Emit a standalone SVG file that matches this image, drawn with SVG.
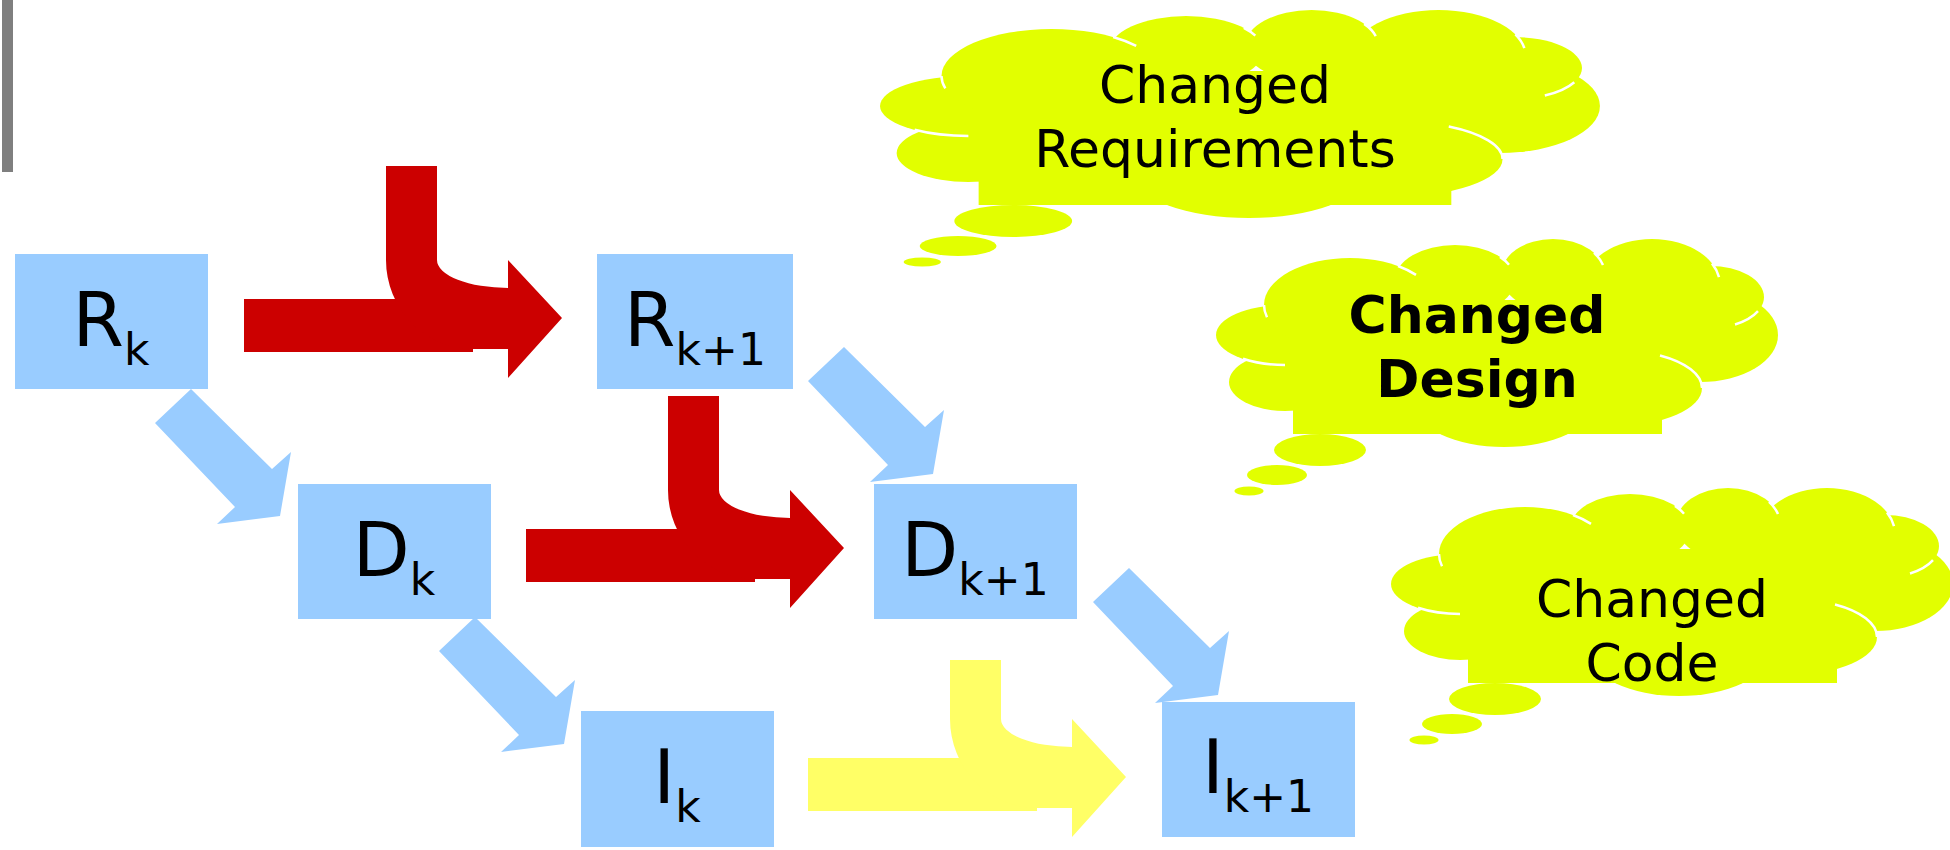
<svg xmlns="http://www.w3.org/2000/svg" xmlns:xlink="http://www.w3.org/1999/xlink" width="1950" height="850" viewBox="0 0 1950 850">
<style>
.box{fill:#99CCFF}
.lbl{font-family:"DejaVu Sans",Verdana,sans-serif;font-size:74px;fill:#000;text-anchor:middle}
.sub{font-size:44px}
.red{fill:#CC0000}
.yel{fill:#FFFF66}
.blu{fill:#99CCFF}
.cf{fill:#E2FF00}
.cw{fill:none;stroke:#FFFFFF;stroke-width:2.5;vector-effect:non-scaling-stroke}
.ct{font-family:"DejaVu Sans",Verdana,sans-serif;font-size:52px;fill:#000;text-anchor:middle}
.bold{font-weight:bold}
</style>
<defs>
<g id="cloud">
<g class="cf">
<ellipse cx="1285" cy="335" rx="69" ry="30"/>
<ellipse cx="1285" cy="382" rx="56" ry="29"/>
<ellipse cx="1350" cy="305" rx="86" ry="47"/>
<ellipse cx="1455" cy="280" rx="60" ry="35"/>
<ellipse cx="1553" cy="275" rx="52" ry="36"/>
<ellipse cx="1652" cy="285" rx="68" ry="46"/>
<ellipse cx="1710" cy="297" rx="54" ry="31"/>
<ellipse cx="1700" cy="335" rx="78" ry="47"/>
<ellipse cx="1615" cy="388" rx="87" ry="38"/>
<ellipse cx="1504" cy="404" rx="89" ry="43"/>
<rect x="1293" y="300" width="369" height="134"/>
<ellipse cx="1320" cy="450" rx="46" ry="16"/>
<ellipse cx="1277" cy="475" rx="30" ry="10"/>
<ellipse cx="1249" cy="491" rx="14.5" ry="4.5"/>
</g>
<path class="cw" d="M1243,358.8 A69,30 0 0 0 1285,365"/>
<path class="cw" d="M1264,305 A86,47 0 0 0 1267,317.3"/>
<path class="cw" d="M1398,266 A86,47 0 0 1 1416,274.9"/>
<path class="cw" d="M1500,256.9 A60,35 0 0 1 1509,264.7"/>
<path class="cw" d="M1594,252.9 A52,36 0 0 1 1603,265.1"/>
<path class="cw" d="M1712,263.4 A68,46 0 0 1 1719,277.1"/>
<path class="cw" d="M1735,324.5 A54,31 0 0 0 1758,311.2"/>
<path class="cw" d="M1660,355.5 A87,38 0 0 1 1702,388"/>
</g>
</defs>

<rect x="2" y="0" width="11" height="172" fill="#7F7F7F"/>

<g id="node-Rk"><rect class="box" x="15" y="254" width="193" height="135"/><text class="lbl" x="111" y="346">R<tspan class="sub" dy="19">k</tspan></text></g>
<g id="node-Rk1"><rect class="box" x="597" y="254" width="196" height="135"/><text class="lbl" x="695" y="346">R<tspan class="sub" dy="19">k+1</tspan></text></g>
<g id="node-Dk"><rect class="box" x="298" y="484" width="193" height="135"/><text class="lbl" x="394" y="576">D<tspan class="sub" dy="19">k</tspan></text></g>
<g id="node-Dk1"><rect class="box" x="874" y="484" width="203" height="135"/><text class="lbl" x="975" y="576">D<tspan class="sub" dy="19">k+1</tspan></text></g>
<g id="node-Ik"><rect class="box" x="581" y="711" width="193" height="136"/><text class="lbl" x="677" y="803">I<tspan class="sub" dy="19">k</tspan></text></g>
<g id="node-Ik1"><rect class="box" x="1162" y="702" width="193" height="135"/><text class="lbl" x="1258" y="793">I<tspan class="sub" dy="19">k+1</tspan></text></g>

<g id="connectors">
<g id="red-arrow-1" class="red">
<rect x="244" y="299" width="229" height="53"/>
<path d="M386,166 H437 V260 A71,28 0 0 0 508,288 V260 L562,318 L508,378 V349 H473 A87,89 0 0 1 386,260 Z"/>
</g>
<g id="red-arrow-2" class="red">
<rect x="526" y="529" width="229" height="53"/>
<path d="M668,396 H719 V490 A71,28 0 0 0 790,518 V490 L844,548 L790,608 V579 H755 A87,89 0 0 1 668,490 Z"/>
</g>
<g id="yellow-arrow" class="yel">
<rect x="808" y="758" width="229" height="53"/>
<path d="M950,660 H1001 V719 A71,28 0 0 0 1072,747 V719 L1126,777 L1072,837 V808 H1037 A87,89 0 0 1 950,719 Z"/>
</g>
<polygon class="blu" points="191,389 272,469 291,452 280,516 217,524 235,507 155,423"/>
<polygon class="blu" points="844,347 925,427 944,410 933,474 870,482 888,465 808,381"/>
<polygon class="blu" points="475,617 556,697 575,680 564,744 501,752 519,735 439,651"/>
<polygon class="blu" points="1129,568 1210,648 1229,631 1218,695 1155,703 1173,686 1093,602"/>
</g>

<g id="cloud-requirements">
<use xlink:href="#cloud" href="#cloud" transform="matrix(1.281,0,0,1,-677.7,-229)"/>
<text class="ct" x="1215" y="103">Changed</text>
<text class="ct" x="1215" y="167">Requirements</text>
</g>
<g id="cloud-design">
<use xlink:href="#cloud" href="#cloud"/>
<text class="ct bold" x="1477" y="333">Changed</text>
<text class="ct bold" x="1477" y="397">Design</text>
</g>
<g id="cloud-code">
<use xlink:href="#cloud" href="#cloud" transform="translate(175,249)"/>
<text class="ct" x="1652" y="617">Changed</text>
<text class="ct" x="1652" y="681">Code</text>
</g>
</svg>
